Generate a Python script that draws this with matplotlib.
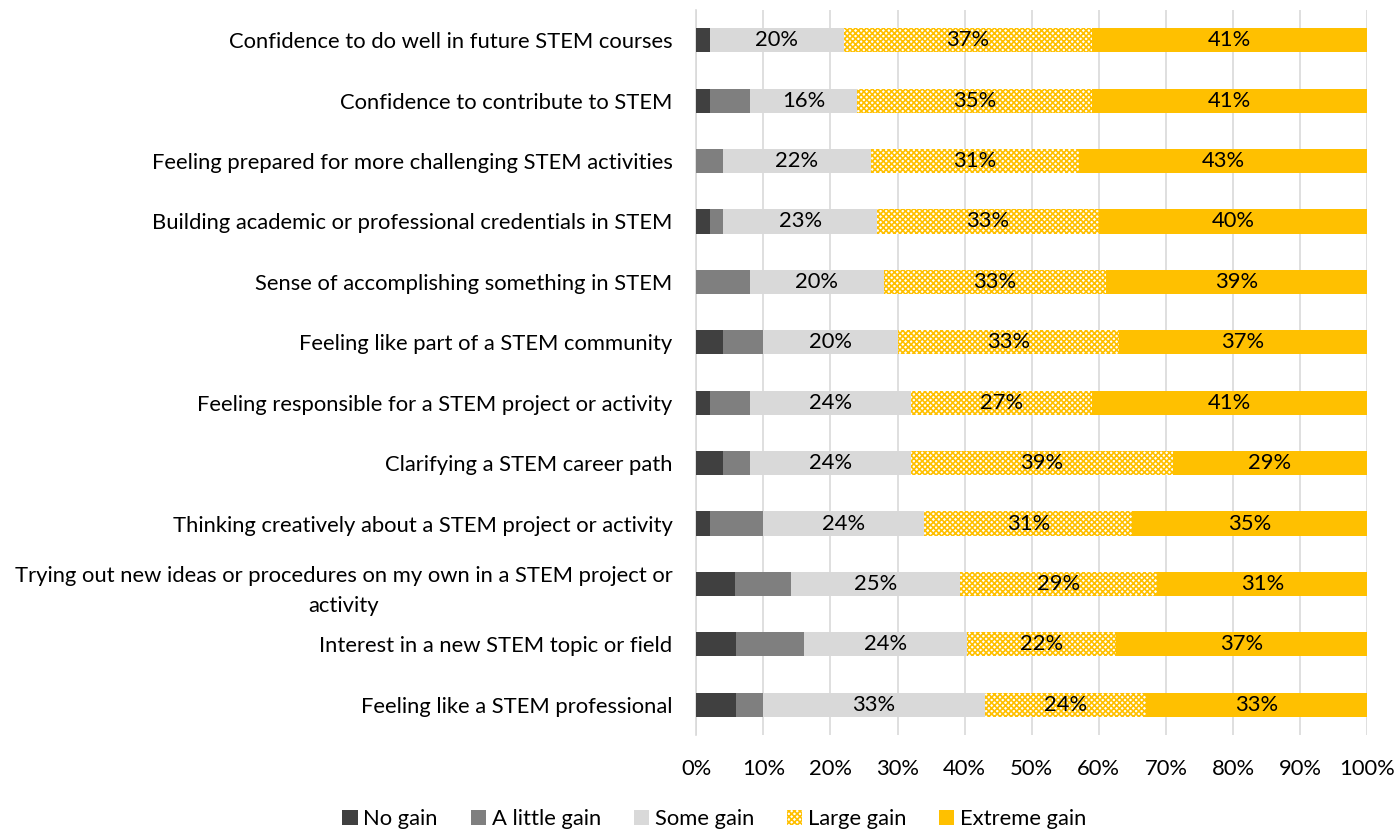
import matplotlib
matplotlib.use("Agg")
import matplotlib.pyplot as plt
import numpy as np

categories = [
    "Confidence to do well in future STEM courses",
    "Confidence to contribute to STEM",
    "Feeling prepared for more challenging STEM activities",
    "Building academic or professional credentials in STEM",
    "Sense of accomplishing something in STEM",
    "Feeling like part of a STEM community",
    "Feeling responsible for a STEM project or activity",
    "Clarifying a STEM career path",
    "Thinking creatively about a STEM project or activity",
    "Trying out new ideas or procedures on my own in a STEM project or\nactivity",
    "Interest in a new STEM topic or field",
    "Feeling like a STEM professional",
]
no_gain = [2, 2, 0, 2, 0, 4, 2, 4, 2, 5.8, 5.9, 6]
little_gain = [0, 6, 4, 2, 8, 6, 6, 4, 8, 8.3, 10.2, 4]
some_gain = [20, 16, 22, 23, 20, 20, 24, 24, 24, 25.2, 24.2, 33]
large_gain = [37, 35, 31, 33, 33, 33, 27, 39, 31, 29.4, 22.3, 24]
extreme_gain = [41, 41, 43, 40, 39, 37, 41, 29, 35, 31.3, 37.4, 33]
series_names = ["No gain", "A little gain", "Some gain", "Large gain", "Extreme gain"]
xticks = [0, 10, 20, 30, 40, 50, 60, 70, 80, 90, 100]

plt.rcParams['font.family'] = ['Lato', 'DejaVu Sans']
plt.rcParams['hatch.linewidth'] = 1.2

FS = 15.8
fig = plt.figure(figsize=(13.98, 8.31), dpi=100)
ax = fig.add_axes([0.498, 0.1155, 0.48, 0.8725])

y = np.arange(len(categories))
series = [no_gain, little_gain, some_gain, large_gain, extreme_gain]
styles = [
    dict(color="#404040"),
    dict(color="#7f7f7f"),
    dict(color="#d9d9d9"),
    dict(facecolor="#ffffff", edgecolor="#ffc000", hatch="xxxxxx", linewidth=0),
    dict(color="#ffc000"),
]
labelled = [False, False, True, True, True]
left = np.zeros(len(categories))
handles = []
for vals, st, name, lab in zip(series, styles, series_names, labelled):
    v = np.array(vals, dtype=float)
    bars = ax.barh(y, v, left=left, height=0.4, label=name, zorder=3, **st)
    handles.append(bars)
    if lab:
        for yi, l, w in zip(y, left, v):
            if w > 0:
                ax.text(l + w / 2, yi, f"{round(w):.0f}%", ha="center", va="center",
                        fontsize=FS, color="#000000", zorder=4)
    left = left + v

ax.set_ylim(len(categories) - 0.5, -0.5)
ax.set_xlim(0, 100)
ax.set_xticks(xticks)
ax.set_xticklabels([f"{t}%" for t in xticks], fontsize=FS)
ax.set_yticks(y)
ax.set_yticklabels(categories, fontsize=FS, multialignment="center", linespacing=1.6)
ax.tick_params(axis="y", length=0, pad=17)
ax.tick_params(axis="x", length=0, pad=17)
ax.xaxis.grid(True, color="#d9d9d9", linewidth=1.2, zorder=0)
ax.set_axisbelow(True)
for s in ["top", "right", "bottom"]:
    ax.spines[s].set_visible(False)
ax.spines["left"].set_color("#d9d9d9")
ax.spines["left"].set_linewidth(1.2)

fig.legend(handles=handles, labels=series_names, loc="center", bbox_to_anchor=(0.511, 0.014),
           ncol=5, frameon=False, fontsize=FS, handlelength=0.7, handleheight=0.7,
           handletextpad=0.25, columnspacing=1.5)

fig.savefig("out.png", dpi=100)
